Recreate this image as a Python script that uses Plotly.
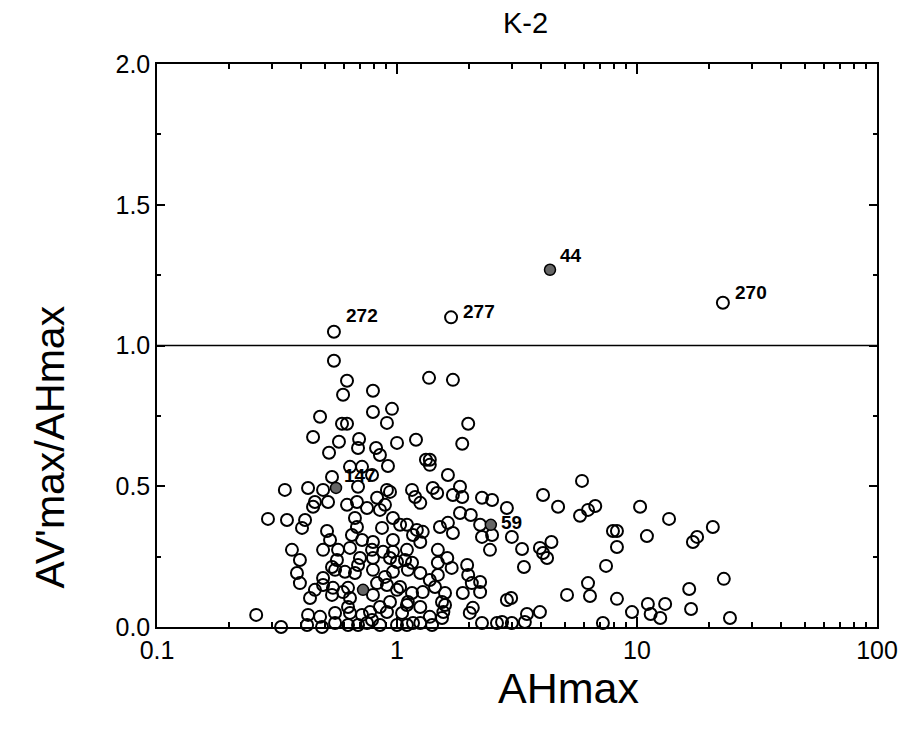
import math
import plotly.graph_objects as go

# open circles: AHmax and AV'max/AHmax
ah_open = [
    0.546, 1.68, 22.8,
    0.546, 0.619, 0.596, 0.794, 0.794, 0.953, 0.478, 0.590, 0.619, 0.908,
    0.447, 0.573, 0.695, 0.688, 0.818, 1.00, 1.20, 0.521, 0.849, 1.32,
    0.637, 0.715, 0.917, 0.536, 0.787, 0.426, 0.341, 0.492, 0.688, 0.908,
    0.935, 1.155, 1.41, 0.455, 0.516, 0.619, 0.681, 0.826, 0.891, 1.19,
    1.25, 1.47, 1.71, 1.83, 1.87, 2.26, 2.49, 4.06, 4.69, 5.90, 5.79,
    6.25, 6.7, 10.3, 13.6, 20.7, 17.1, 17.8, 7.94, 8.25, 11.0, 8.25,
    7.43, 6.25, 6.37, 8.25, 16.5, 23.0, 9.53, 11.1, 13.1, 11.4, 12.5,
    16.8, 24.4, 7.21, 5.11,
    1.36, 1.71, 1.98, 1.87, 1.37, 1.37, 1.63, 2.87, 1.83, 2.03, 1.51,
    1.63, 1.71, 2.22, 2.26, 2.49, 3.01, 2.44, 3.32, 3.94, 4.06, 4.4,
    4.22, 1.48, 1.62, 3.38, 1.48, 1.48, 1.37, 1.44, 1.69, 1.96, 1.98,
    2.05, 2.22, 1.585, 1.88, 2.22, 2.87, 2.99, 1.54, 1.585, 1.56, 1.37,
    1.54, 2.01, 2.07, 3.48, 3.94, 2.26, 2.61, 2.74, 3.01, 3.41, 1.40,
    1.10, 1.21, 1.28, 1.10, 1.155, 1.25, 1.155, 1.25, 1.166,
    0.290, 0.348, 0.414, 0.402, 0.511, 0.668, 0.681, 0.866, 1.166, 0.526,
    0.649, 0.715, 0.794, 0.962, 0.365, 0.492, 0.568, 0.637, 0.787, 0.962,
    0.394, 0.562, 0.701, 0.794, 0.935, 1.08, 0.383, 0.492, 0.552, 0.607,
    0.668, 0.794, 0.962, 1.11, 0.394, 0.455, 0.541, 0.596, 0.826, 0.908,
    1.03, 0.434, 0.536, 0.637, 0.794, 0.935, 1.11, 0.259, 0.426, 0.478,
    0.552, 0.637, 0.772, 0.908, 1.05, 0.329, 0.422, 0.487, 0.552, 0.625,
    0.750, 0.849, 1.00,
    0.447, 0.750, 0.849, 0.962, 1.03, 0.875, 1.25, 0.536, 0.688, 0.891,
    1.00, 0.492, 0.625, 1.00, 1.28, 0.625, 0.715, 0.849, 1.10, 0.688,
    0.787, 1.10, 1.25,
]
ratio_open = [
    1.049, 1.10, 1.152,
    0.946, 0.875, 0.825, 0.839, 0.764, 0.775, 0.747, 0.722, 0.722, 0.725,
    0.675, 0.658, 0.668, 0.636, 0.636, 0.654, 0.665, 0.619, 0.611, 0.594,
    0.569, 0.569, 0.572, 0.533, 0.540, 0.494, 0.487, 0.487, 0.498, 0.487,
    0.480, 0.487, 0.494, 0.444, 0.444, 0.434, 0.444, 0.459, 0.434, 0.462,
    0.441, 0.476, 0.469, 0.498, 0.462, 0.459, 0.451, 0.469, 0.427, 0.519, 0.395,
    0.416, 0.430, 0.427, 0.384, 0.355, 0.302, 0.320, 0.341, 0.341, 0.323, 0.284,
    0.217, 0.156, 0.110, 0.100, 0.135, 0.171, 0.053, 0.082, 0.082, 0.046, 0.032,
    0.064, 0.032, 0.014, 0.114,
    0.885, 0.878, 0.722, 0.651, 0.594, 0.576, 0.540, 0.423, 0.405, 0.398, 0.355,
    0.370, 0.334, 0.363, 0.320, 0.327, 0.320, 0.274, 0.277, 0.281, 0.263, 0.302,
    0.245, 0.274, 0.245, 0.213, 0.228, 0.185, 0.167, 0.142, 0.210, 0.220, 0.185,
    0.156, 0.160, 0.121, 0.121, 0.124, 0.096, 0.103, 0.089, 0.078, 0.053, 0.036,
    0.032, 0.050, 0.068, 0.046, 0.053, 0.014, 0.014, 0.018, 0.014, 0.018, 0.007,
    0.363, 0.345, 0.338, 0.274, 0.228, 0.192, 0.121, 0.071, 0.014,
    0.384, 0.380, 0.380, 0.352, 0.341, 0.387, 0.355, 0.352, 0.327, 0.309,
    0.327, 0.309, 0.302, 0.309, 0.274, 0.274, 0.274, 0.281, 0.274, 0.267,
    0.238, 0.238, 0.245, 0.245, 0.245, 0.238, 0.192, 0.174, 0.203, 0.196,
    0.192, 0.203, 0.196, 0.203, 0.156, 0.132, 0.139, 0.124, 0.156, 0.149,
    0.142, 0.103, 0.114, 0.103, 0.114, 0.089, 0.089, 0.043, 0.043, 0.036,
    0.050, 0.050, 0.053, 0.053, 0.050, 0.0, 0.007, 0.0, 0.014, 0.007,
    0.014, 0.007, 0.007,
    0.427, 0.423, 0.416, 0.387, 0.363, 0.267, 0.302, 0.213, 0.220, 0.178,
    0.231, 0.149, 0.139, 0.132, 0.124, 0.071, 0.043, 0.071, 0.078, 0.007,
    0.025, 0.007, 0.014,
]

# shaded (filled) events
ah_filled = [4.34, 0.557, 2.46, 0.722]
ratio_filled = [1.269, 0.494, 0.363, 0.132]

# labelled events
label_text = ["272", "277", "44", "270", "147", "59"]
label_ah = [0.546, 1.68, 4.34, 22.8, 0.557, 2.46]
label_ratio = [1.049, 1.10, 1.269, 1.152, 0.494, 0.363]
label_dx = [10, 10, 8, 10, 6, 8]
label_dy = [16, 6, 14, 10, 12, 2]

# log-axis minor tick positions (2..9 per decade)
minor_x = [m * d for d in (0.1, 1, 10) for m in range(2, 10)]

fig = go.Figure()

fig.add_trace(go.Scatter(
    x=ah_open, y=ratio_open, mode="markers",
    marker=dict(symbol="circle-open", size=12, color="black", line=dict(width=2)),
    cliponaxis=False, showlegend=False))

fig.add_trace(go.Scatter(
    x=ah_filled, y=ratio_filled, mode="markers",
    marker=dict(symbol="circle", size=11, color="#666666", line=dict(width=1.5, color="black")),
    cliponaxis=False, showlegend=False))

for t, xv, yv, dx, dy in zip(label_text, label_ah, label_ratio, label_dx, label_dy):
    fig.add_annotation(x=math.log10(xv), y=yv, text="<b>%s</b>" % t, showarrow=False,
                       xanchor="left", yanchor="middle", xshift=dx, yshift=dy,
                       font=dict(size=19, color="black", family="Arial"))

# axis titles sit off-centre in the original, so place them as annotations
fig.add_annotation(xref="paper", yref="paper", x=0.571, y=-0.108, text="AHmax",
                   showarrow=False, xanchor="center", yanchor="middle",
                   font=dict(size=43, family="Arial", color="black"))
fig.add_annotation(xref="paper", yref="paper", x=-0.149, y=0.32, text="AV'max/AHmax",
                   textangle=-90, showarrow=False, xanchor="center", yanchor="middle",
                   font=dict(size=41, family="Arial", color="black"))

# reference line at ratio = 1
fig.add_shape(type="line", xref="paper", x0=0, x1=1, yref="y", y0=1, y1=1,
              line=dict(color="black", width=1.5))

fig.update_layout(
    width=920, height=733,
    margin=dict(l=149, r=51, t=56, b=114),
    paper_bgcolor="white", plot_bgcolor="white",
    font=dict(family="Arial", color="black"),
    title=dict(text="K-2", x=0.5625, xanchor="center", y=0.993, yanchor="top",
               font=dict(size=29, family="Arial")),
)

fig.update_xaxes(
    type="log", range=[-1, 2],
    tickvals=[0.1, 1, 10, 100], ticktext=["0.1", "1", "10", "100"],
    ticks="inside", ticklen=10, tickwidth=1.5, tickcolor="black",
    minor=dict(ticks="inside", ticklen=5, tickvals=minor_x, tickcolor="black", showgrid=False),
    showline=True, linecolor="black", linewidth=1.5, mirror="ticks",
    showgrid=False, zeroline=False,
    tickfont=dict(size=25),
)

fig.update_yaxes(
    range=[0, 2],
    tickvals=[0, 0.5, 1.0, 1.5, 2.0], ticktext=["0.0", "0.5", "1.0", "1.5", "2.0"],
    ticks="inside", ticklen=8, tickwidth=1.5, tickcolor="black",
    minor=dict(ticks="inside", ticklen=4, dtick=0.25, tickcolor="black", showgrid=False),
    showline=True, linecolor="black", linewidth=1.5, mirror="ticks",
    showgrid=False, zeroline=False,
    tickfont=dict(size=25),
)

fig.write_html("out.html")
